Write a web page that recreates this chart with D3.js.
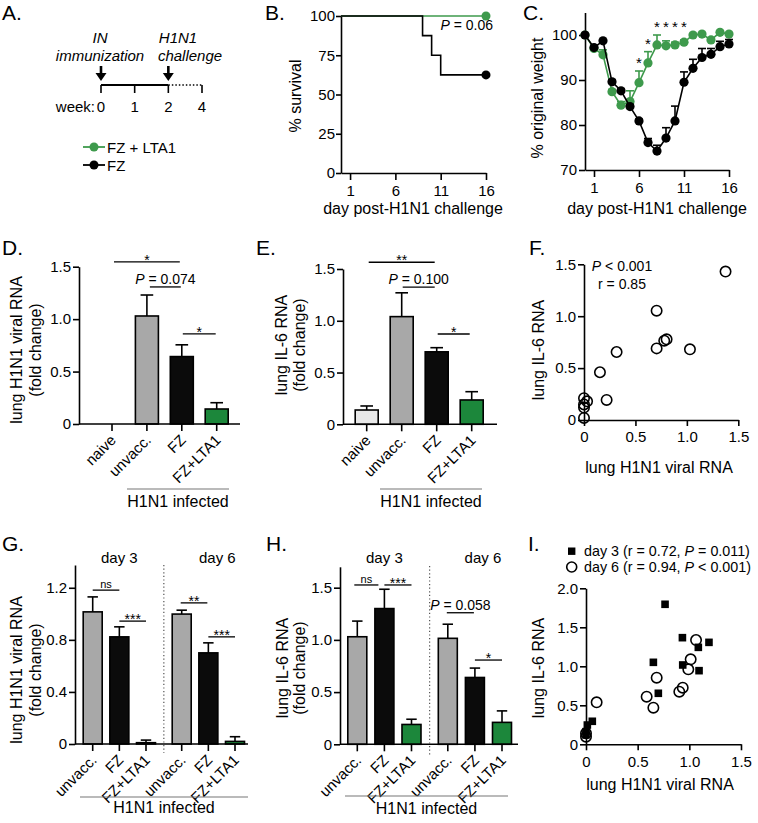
<!DOCTYPE html>
<html><head><meta charset="utf-8">
<script src="https://cdn.jsdelivr.net/npm/d3@7"></script>
<style>
body{margin:0;background:#fff}
svg{display:block}
</style></head><body>
<svg id="fig" width="758" height="823"></svg>
<script>
// ================= DATA =================
const timelineWeeks = ["0", "1", "2", "4"];

const survivalDaysLTA1 = [0, 16];
const survivalLTA1 = [100, 100];
const survivalDaysFZ = [0, 9, 10, 11, 16];
const survivalFZ = [100, 87.5, 75, 62.5, 62.5];
const survivalTicks = [0, 25, 50, 75, 100];
const dayTicks = [1, 6, 11, 16];

const weightDays = [0, 1, 2, 3, 4, 5, 6, 7, 8, 9, 10, 11, 12, 13, 14, 15, 16];
const weightFZ = [100, 97.2, 98.7, 89.6, 87.6, 84.1, 80.9, 76.1, 74.2, 77.1, 80.9, 89.5, 92.6, 95.0, 95.7, 97.4, 98.0];
const weightFZErr = [0, 0, 0, 0.4, 0.4, 0.4, 0.4, 0.9, 1.3, 2.3, 3.3, 2.3, 2.0, 2.0, 1.3, 1.2, 1.0];
const weightLTA1 = [100, 97.0, 95.6, 87.4, 84.4, 85.2, 89.4, 93.8, 97.8, 97.6, 97.8, 98.4, 100.0, 100.2, 98.9, 100.6, 100.2];
const weightLTA1Err = [0, 0, 1.1, 0.5, 0.8, 2.4, 2.6, 2.5, 2.2, 1.1, 0.6, 0.5, 0.3, 0.3, 0.5, 0.3, 0.3];
const weightStarDays = [6, 7, 8, 9, 10, 11];
const weightTicks = [70, 80, 90, 100];

const groups4 = ["naive", "unvacc.", "FZ", "FZ+LTA1"];
const viralRNA = [0, 1.03, 0.643, 0.143];
const viralRNAErr = [0, 0.20, 0.112, 0.06];
const il6RNA = [0.138, 1.04, 0.70, 0.235];
const il6RNAErr = [0.039, 0.23, 0.04, 0.08];
const foldTicks = [0, 0.5, 1.0, 1.5];

const corrViral = [1.376, 0.706, 0.317, 0.155, 0.706, 0.78, 0.803, 1.03, 0.22, 0, 0.03, 0, 0, 0];
const corrIL6 = [1.43, 1.053, 0.655, 0.46, 0.69, 0.764, 0.777, 0.681, 0.193, 0.21, 0.18, 0.15, 0.12, 0.02];

const groups3 = ["unvacc.", "FZ", "FZ+LTA1"];
const timeGroups = ["day 3", "day 6"];
const viralDay3 = [1.015, 0.823, 0.01];
const viralDay3Err = [0.115, 0.077, 0.02];
const viralDay6 = [0.998, 0.70, 0.02];
const viralDay6Err = [0.03, 0.077, 0.036];
const viralTicksG = [0, 0.4, 0.8, 1.2];
const il6Day3 = [1.03, 1.30, 0.19];
const il6Day3Err = [0.15, 0.185, 0.05];
const il6Day6 = [1.015, 0.64, 0.21];
const il6Day6Err = [0.135, 0.09, 0.11];

const d3Viral = [0.765, 0.933, 1.19, 1.087, 0.652, 0.936, 1.094, 0.70, 0.061, 0.013, 0, 0];
const d3IL6 = [1.795, 1.367, 1.307, 1.243, 1.051, 1.017, 0.944, 0.654, 0.295, 0.247, 0.162, 0.12];
const d6Viral = [1.065, 1.013, 0.99, 0.684, 0.936, 0.903, 0.587, 0.652, 0.103, 0, 0];
const d6IL6 = [1.337, 1.09, 0.961, 0.854, 0.726, 0.675, 0.61, 0.47, 0.538, 0.141, 0.098];
const corrXTicks = [0, 0.5, 1.0, 1.5];
const corrYTicksI = [0, 0.5, 1.0, 1.5, 2.0];

// ================= STYLE =================
const FONT = '"Liberation Sans", Arial, Helvetica, sans-serif';
const GREEN_LINE = "#3e9a4c";
const GREEN_BAR = "#1c873b";
const GRAY_BAR = "#a8a8a8";
const LIGHT_BAR = "#e8e8e8";
const DARK_BAR = "#0b0b0b";
const barColor = {"naive": LIGHT_BAR, "unvacc.": GRAY_BAR, "FZ": DARK_BAR, "FZ+LTA1": GREEN_BAR};
const SW = 1.6;

const svg = d3.select("#fig");
svg.append("rect").attr("width", 758).attr("height", 823).attr("fill", "#fff");

function txt(x, y, s, o = {}) {
  const t = svg.append("text").attr("x", x).attr("y", y)
    .attr("font-family", FONT).attr("font-size", o.size || 15)
    .attr("fill", o.fill || "#000").attr("text-anchor", o.anchor || "start");
  if (o.italic) t.attr("font-style", "italic");
  if (o.rotate) t.attr("transform", `rotate(${o.rotate},${x},${y})`);
  t.text(s);
  return t;
}
function rich(x, y, parts, o = {}) {
  const t = svg.append("text").attr("x", x).attr("y", y)
    .attr("font-family", FONT).attr("font-size", o.size || 14)
    .attr("fill", "#000").attr("text-anchor", o.anchor || "start");
  parts.forEach(p => t.append("tspan").attr("font-style", p.i ? "italic" : "normal").text(p.t));
  return t;
}
function styleAxis(g) {
  g.attr("font-family", FONT).attr("font-size", 15);
  g.select(".domain").attr("stroke", "#000").attr("stroke-width", SW);
  g.selectAll(".tick line").attr("stroke", "#000").attr("stroke-width", SW);
  g.selectAll(".tick text").attr("fill", "#000");
}
const fmtFold = d => d === 0 ? "0" : d3.format(".1f")(d);
function leftAxis(scale, x, ticks, fmt, size = 6, pad = 2) {
  const g = svg.append("g").attr("transform", `translate(${x},0)`)
    .call(d3.axisLeft(scale).tickValues(ticks).tickFormat(fmt).tickSizeOuter(0).tickSizeInner(size).tickPadding(pad));
  styleAxis(g); return g;
}
function bottomAxis(scale, y, ticks, fmt, size = 7, pad = 5) {
  const g = svg.append("g").attr("transform", `translate(0,${y})`)
    .call(d3.axisBottom(scale).tickValues(ticks).tickFormat(fmt).tickSizeOuter(0).tickSizeInner(size).tickPadding(pad));
  styleAxis(g); return g;
}
function line(x1, y1, x2, y2, o = {}) {
  return svg.append("line").attr("x1", x1).attr("y1", y1).attr("x2", x2).attr("y2", y2)
    .attr("stroke", o.stroke || "#000").attr("stroke-width", o.sw || SW)
    .attr("stroke-dasharray", o.dash || null);
}
function errBar(x, yTop, yErr, capW, color) {
  line(x, yTop, x, yErr, {stroke: color});
  line(x - capW / 2, yErr, x + capW / 2, yErr, {stroke: color});
}
function yTitle(x, yc, s, size = 16) {
  txt(x, yc, s, {size, anchor: "middle", rotate: -90});
}
function panelLetter(x, y, s) { txt(x, y, s, {size: 21}); }

// ---------- bar helper ----------
function bars(xs, cats, vals, errs, yS, bw) {
  vals.forEach((v, i) => {
    if (v <= 0.0001 && errs[i] === 0) return;
    const x = xs[i];
    if (errs[i] > 0) errBar(x, yS(v), yS(v + errs[i]), bw * 0.55, "#000");
    svg.append("rect").attr("x", x - bw / 2).attr("y", yS(v)).attr("width", bw)
      .attr("height", Math.max(0, yS(0) - yS(v)))
      .attr("fill", barColor[cats[i]]).attr("stroke", "#000").attr("stroke-width", SW);
  });
}
function xBarAxis(x0, x1, y0, xs, labels) {
  line(x0, y0, x1, y0);
  xs.forEach((x, i) => {
    line(x, y0, x, y0 + 7);
    svg.append("text").attr("transform", `translate(${x + 5},${y0 + 17}) rotate(-45)`)
      .attr("text-anchor", "end").attr("font-family", FONT).attr("font-size", 15).text(labels[i]);
  });
}
function bracket(xa, xb, y, label, kind) {
  line(xa, y, xb, y, {sw: 1.3});
  const cx = (xa + xb) / 2;
  if (kind === "star") txt(cx, y + 3, label, {size: 14, anchor: "middle"});
  else if (kind === "ns") txt(cx, y - 2, label, {size: 11, anchor: "middle"});
  else rich(cx, y - 3, [{t: "P", i: true}, {t: label}], {size: 14, anchor: "middle"});
}
function infected(x0, x1, yl, yt) {
  line(x0, yl, x1, yl, {stroke: "#777", sw: 1.2});
  txt((x0 + x1) / 2, yt, "H1N1 infected", {size: 16, anchor: "middle"});
}

// ================= PANEL A =================
panelLetter(2, 20, "A.");
const aX = d3.scalePoint().domain(timelineWeeks).range([101, 202]);
const aY = 85;
txt(100, 43, "IN", {italic: true, anchor: "middle"});
txt(100, 61, "immunization", {italic: true, anchor: "middle"});
txt(178, 43, "H1N1", {italic: true, anchor: "middle"});
txt(190, 61, "challenge", {italic: true, anchor: "middle"});
[aX("0"), aX("2")].forEach(x => {
  line(x, 66, x, 74, {sw: 2.6});
  svg.append("path").attr("d", `M${x - 5.5},73 L${x + 5.5},73 L${x},81 Z`).attr("fill", "#000");
});
line(aX("0"), aY, aX("2"), aY, {sw: 1.8});
line(aX("2"), aY, aX("4"), aY, {sw: 1.4, dash: "1.5,2"});
timelineWeeks.forEach(w => line(aX(w), aY, aX(w), aY + 8, {sw: 1.6}));
txt(95, 112, "week:", {anchor: "end"});
timelineWeeks.forEach(w => txt(aX(w), 112, w, {anchor: "middle"}));
// legend
line(83, 147, 105, 147, {stroke: GREEN_LINE, sw: 1.8});
svg.append("circle").attr("cx", 94).attr("cy", 147).attr("r", 4.5).attr("fill", GREEN_LINE);
txt(107, 153, "FZ + LTA1");
line(83, 165, 105, 165, {stroke: "#000", sw: 1.8});
svg.append("circle").attr("cx", 94).attr("cy", 165).attr("r", 4.5).attr("fill", "#000");
txt(107, 171, "FZ");

// ================= PANEL B =================
panelLetter(265, 20, "B.");
const bX = d3.scaleLinear().domain([0, 16]).range([341, 486]);
const bY = d3.scaleLinear().domain([0, 100]).range([173, 16]);
leftAxis(bY, 341, survivalTicks, d3.format("d"), 5, 1);
bottomAxis(bX, 173, dayTicks, d3.format("d"), 7, 5);
const step = d3.line().x(d => bX(d[0])).y(d => bY(d[1])).curve(d3.curveStepAfter);
svg.append("path").attr("d", step(survivalDaysLTA1.map((d, i) => [d, survivalLTA1[i]])))
  .attr("fill", "none").attr("stroke", GREEN_LINE).attr("stroke-width", SW);
svg.append("path").attr("d", step(survivalDaysFZ.map((d, i) => [d, survivalFZ[i]])))
  .attr("fill", "none").attr("stroke", "#000").attr("stroke-width", SW);
svg.append("circle").attr("cx", bX(survivalDaysLTA1[1])).attr("cy", bY(survivalLTA1[1])).attr("r", 4.5).attr("fill", GREEN_LINE);
svg.append("circle").attr("cx", bX(survivalDaysFZ[4])).attr("cy", bY(survivalFZ[4])).attr("r", 4.5).attr("fill", "#000");
rich(493, 30, [{t: "P", i: true}, {t: " = 0.06"}], {size: 14, anchor: "end"});
yTitle(301, 96, "% survival");
txt(413, 214, "day post-H1N1 challenge", {size: 16, anchor: "middle"});

// ================= PANEL C =================
panelLetter(523, 20, "C.");
const cX = d3.scaleLinear().domain([0, 16]).range([585, 729]);
const cY = d3.scaleLinear().domain([70, 105]).range([170, 12.5]);
leftAxis(cY, 585, weightTicks, d3.format("d"), 6, 2);
bottomAxis(cX, 170, dayTicks, d3.format("d"), 7, 5);
const cLine = d3.line().x((d, i) => cX(weightDays[i])).y(d => cY(d));
weightDays.forEach((d, i) => { if (weightLTA1Err[i] > 0) errBar(cX(d), cY(weightLTA1[i]), cY(weightLTA1[i] + weightLTA1Err[i]), 8, GREEN_LINE); });
svg.append("path").attr("d", cLine(weightLTA1)).attr("fill", "none").attr("stroke", GREEN_LINE).attr("stroke-width", SW);
weightDays.forEach((d, i) => svg.append("circle").attr("cx", cX(d)).attr("cy", cY(weightLTA1[i])).attr("r", 4.6).attr("fill", GREEN_LINE));
weightDays.forEach((d, i) => { if (weightFZErr[i] > 0) errBar(cX(d), cY(weightFZ[i]), cY(weightFZ[i] + weightFZErr[i]), 8, "#000"); });
svg.append("path").attr("d", cLine(weightFZ)).attr("fill", "none").attr("stroke", "#000").attr("stroke-width", SW);
weightDays.forEach((d, i) => svg.append("circle").attr("cx", cX(d)).attr("cy", cY(weightFZ[i])).attr("r", 4.6).attr("fill", "#000"));
const topOf = d => weightLTA1[d] + weightLTA1Err[d];
const rowTop = d3.max(weightStarDays.filter(d => d >= 8), topOf);
weightStarDays.forEach(d => {
  const v = d >= 8 ? rowTop : topOf(d);
  txt(cX(d), cY(v) - 3, "*", {size: 15, anchor: "middle"});
});
yTitle(543, 98, "% original weight");
txt(657, 214, "day post-H1N1 challenge", {size: 16, anchor: "middle"});

// ================= PANEL D =================
panelLetter(2, 255, "D.");
const dY = d3.scaleLinear().domain([0, 1.5]).range([424, 266.7]);
const dX = d3.scalePoint().domain(groups4).range([112, 216.7]);
const dXs = groups4.map(g => dX(g));
bars(dXs, groups4, viralRNA, viralRNAErr, dY, 23);
leftAxis(dY, 79, foldTicks, fmtFold, 6, 2);
xBarAxis(79, 240, 424, dXs, groups4);
bracket(dXs[0] + 2, dXs[2] - 2, dY(1.546), "*", "star");
bracket(dXs[1] + 3, dXs[2] - 1, dY(1.307), " = 0.074", "p");
bracket(dXs[2] + 1, dXs[3] - 1, dY(0.859), "*", "star");
infected(127, 229, 489, 507);
yTitle(22, 350, "lung H1N1 viral RNA");
yTitle(41, 350, "(fold change)");

// ================= PANEL E =================
panelLetter(256, 255, "E.");
const eY = d3.scaleLinear().domain([0, 1.5]).range([424.3, 269]);
const eX = d3.scalePoint().domain(groups4).range([366.7, 471.7]);
const eXs = groups4.map(g => eX(g));
bars(eXs, groups4, il6RNA, il6RNAErr, eY, 23);
leftAxis(eY, 343, foldTicks, fmtFold, 6, 2);
xBarAxis(343, 497, 424.3, eXs, groups4);
bracket(eXs[0] + 2, eXs[2] - 2, eY(1.565), "**", "star");
bracket(eXs[1] + 1, eXs[2] - 2, eY(1.324), " = 0.100", "p");
bracket(eXs[2] + 1, eXs[3] - 2, eY(0.872), "*", "star");
infected(380, 482, 489, 507);
yTitle(287, 345, "lung IL-6 RNA");
yTitle(305, 345, "(fold change)");

// ================= PANEL F =================
panelLetter(529, 255, "F.");
const fX = d3.scaleLinear().domain([0, 1.5]).range([584, 738.3]);
const fY = d3.scaleLinear().domain([0, 1.5]).range([420, 264.3]);
leftAxis(fY, 584, foldTicks, fmtFold, 6, 2);
bottomAxis(fX, 420, corrXTicks, fmtFold, 6, 5);
corrViral.forEach((v, i) => svg.append("circle").attr("cx", fX(v)).attr("cy", fY(corrIL6[i])).attr("r", 5.2)
  .attr("fill", "none").attr("stroke", "#000").attr("stroke-width", SW));
rich(622, 271, [{t: "P", i: true}, {t: " < 0.001"}], {size: 14, anchor: "middle"});
txt(622, 289, "r = 0.85", {size: 14, anchor: "middle"});
yTitle(544, 350, "lung IL-6 RNA");
txt(659, 473, "lung H1N1 viral RNA", {size: 16, anchor: "middle"});

// ================= PANEL G =================
panelLetter(2, 551, "G.");
const gY = d3.scaleLinear().domain([0, 1.375]).range([744, 565]);
const gIdx = d3.scaleLinear().domain([0, 5.34]).range([92.7, 235]);
const gXs3 = groups3.map((g, i) => gIdx(i));
const gXs6 = groups3.map((g, i) => gIdx(i + 3.34));
bars(gXs3, groups3, viralDay3, viralDay3Err, gY, 19);
bars(gXs6, groups3, viralDay6, viralDay6Err, gY, 19);
leftAxis(gY, 75, viralTicksG, fmtFold, 6, 2);
xBarAxis(75, 248, 744, gXs3.concat(gXs6), groups3.concat(groups3));
line(gIdx(2.67), 565, gIdx(2.67), 753, {stroke: "#444", sw: 1.1, dash: "1.2,2.4"});
txt((gXs3[0] + gXs3[2]) / 2, 563, timeGroups[0], {anchor: "middle"});
txt((gXs6[0] + gXs6[2]) / 2 + 9, 563, timeGroups[1], {anchor: "middle"});
bracket(gXs3[0], gXs3[1], gY(1.182), "ns", "ns");
bracket(gXs3[1], gXs3[2], gY(0.944), "***", "star");
bracket(gXs6[0] - 1, gXs6[1] - 1, gY(1.084), "**", "star");
bracket(gXs6[1], gXs6[2], gY(0.823), "***", "star");
infected(80, 248, 797, 813);
yTitle(22, 670, "lung H1N1 viral RNA");
yTitle(41, 670, "(fold change)");

// ================= PANEL H =================
panelLetter(266, 551, "H.");
const hY = d3.scaleLinear().domain([0, 1.7]).range([744.3, 566.8]);
const hIdx = d3.scaleLinear().domain([0, 5.34]).range([357.3, 502]);
const hXs3 = groups3.map((g, i) => hIdx(i));
const hXs6 = groups3.map((g, i) => hIdx(i + 3.34));
bars(hXs3, groups3, il6Day3, il6Day3Err, hY, 19);
bars(hXs6, groups3, il6Day6, il6Day6Err, hY, 19);
leftAxis(hY, 340, foldTicks, fmtFold, 6, 2);
xBarAxis(340, 518, 744.3, hXs3.concat(hXs6), groups3.concat(groups3));
line(hIdx(2.67), 566, hIdx(2.67), 755, {stroke: "#444", sw: 1.1, dash: "1.2,2.4"});
txt((hXs3[0] + hXs3[2]) / 2, 563, timeGroups[0], {anchor: "middle"});
txt((hXs6[0] + hXs6[2]) / 2 + 8, 563, timeGroups[1], {anchor: "middle"});
bracket(hXs3[0] - 3, hXs3[1] - 6, hY(1.526), "ns", "ns");
bracket(hXs3[1], hXs3[2], hY(1.526), "***", "star");
bracket(hXs6[0] - 1, hXs6[1] - 1, hY(1.26), " = 0.058", "p");
bracket(hXs6[1], hXs6[2], hY(0.807), "*", "star");
infected(345, 508, 796, 814);
yTitle(288, 668, "lung IL-6 RNA");
yTitle(305, 668, "(fold change)");

// ================= PANEL I =================
panelLetter(528, 551, "I.");
const iX = d3.scaleLinear().domain([0, 1.5]).range([586, 741]);
const iY = d3.scaleLinear().domain([0, 2.0]).range([744.3, 588.3]);
leftAxis(iY, 586, corrYTicksI, fmtFold, 6, 2);
bottomAxis(iX, 744.3, corrXTicks, fmtFold, 6, 6);
d3Viral.forEach((v, i) => svg.append("rect").attr("x", iX(v) - 3.8).attr("y", iY(d3IL6[i]) - 3.8)
  .attr("width", 7.6).attr("height", 7.6).attr("fill", "#000"));
d6Viral.forEach((v, i) => svg.append("circle").attr("cx", iX(v)).attr("cy", iY(d6IL6[i])).attr("r", 5.2)
  .attr("fill", "none").attr("stroke", "#000").attr("stroke-width", SW));
svg.append("rect").attr("x", 568).attr("y", 547.5).attr("width", 7.4).attr("height", 7.4).attr("fill", "#000");
rich(584, 556, [{t: "day 3 (r = 0.72, "}, {t: "P", i: true}, {t: " = 0.011)"}], {size: 14.3});
svg.append("circle").attr("cx", 571.7).attr("cy", 567).attr("r", 5).attr("fill", "none").attr("stroke", "#000").attr("stroke-width", SW);
rich(584, 572, [{t: "day 6 (r = 0.94, "}, {t: "P", i: true}, {t: " < 0.001)"}], {size: 14.3});
yTitle(544, 668, "lung IL-6 RNA");
txt(660, 790, "lung H1N1 viral RNA", {size: 16, anchor: "middle"});
</script></body></html>
